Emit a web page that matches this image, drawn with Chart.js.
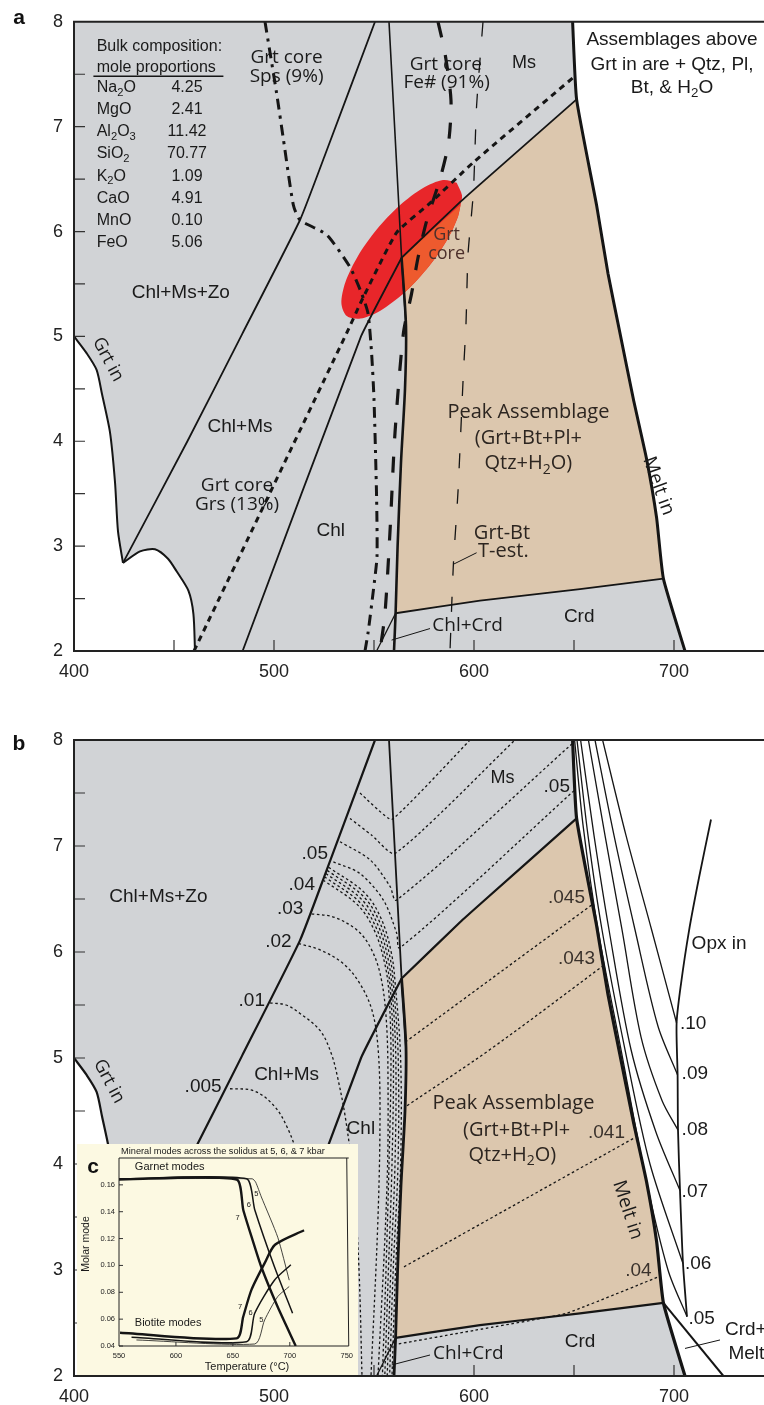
<!DOCTYPE html>
<html>
<head>
<meta charset="utf-8">
<title>Pseudosection</title>
<script src="https://cdn.jsdelivr.net/npm/chart.js@4.4.1/dist/chart.umd.min.js"></script>
<style>
  body { margin: 0; background: #fff; }
  #page { position: relative; width: 764px; height: 1405px; overflow: hidden; }
  canvas { position: absolute; }
</style>
</head>
<body>
<div id="page">
  <canvas id="panelA" width="764" height="700" style="left:0;top:0"></canvas>
  <canvas id="panelB" width="764" height="705" style="left:0;top:700px"></canvas>
  <canvas id="panelC" width="281" height="231" style="left:77px;top:1144px"></canvas>
</div>
<script>
// ---- axes ----
const tempTicks = [400, 500, 600, 700];
const pressTicks = [2, 3, 4, 5, 6, 7, 8];
const tempMinor = [450, 500, 550, 600, 650, 700];
const pressMinor = [2.5, 3, 3.5, 4, 4.5, 5, 5.5, 6, 6.5, 7, 7.5];

// ---- bulk composition (mole proportions) ----
const oxides = ['Na_2O', 'MgO', 'Al_2O_3', 'SiO_2', 'K_2O', 'CaO', 'MnO', 'FeO'];
const moleProps = [4.25, 2.41, 11.42, 70.77, 1.09, 4.91, 0.10, 5.06];

// ---- phase boundaries shared by a and b  [T degC, P kbar] ----
const grtInUpper = [[400,5.0],[406.3,4.84],[411.3,4.68],[414,4.45],[418,4.085],[420.5,3.61],[422,3.14],[424.5,2.84]];
const grtInLower = [[424.5,2.84],[433,2.95],[440.5,2.97],[447,2.88],[451.3,2.76],[457.2,2.575],[459.7,2.355],[460.5,2.0]];
const chlMsLine = [[424.5,2.84],[456.7,4.0],[484,5.02],[513,6.11],[525.5,6.73],[550.5,8.0]];
const chlLine = [[484.3,2.0],[543.5,5.0],[563.8,5.75]];
const msLine = [[557.5,8.0],[563.8,5.75],[566,5.1]];
const tanTop = [[563.8,5.75],[593,6.28],[603,6.45],[651.3,7.26]];
const tanLeft = [[563.8,5.75],[566,5.1],[565.5,4.5],[563.5,3.8],[561.8,3.0],[560.8,2.36],[560,2.0]];
const tanBottom = [[560.8,2.36],[603,2.48],[653,2.59],[694.7,2.69]];
const meltIn = [[649.3,8.0],[651.3,7.26],[661.3,6.25],[667,5.6],[673,5.03],[679.7,4.4],[686.3,3.83],[691.3,3.27],[694.7,2.69],[705.5,2.0]];
const chlCrdLine = [[551.3,2.0],[560.8,2.36]];

// ---- panel a: garnet core isopleths ----
const spsIso = [[495.5,8.0],[501.3,7.32],[504.7,6.88],[509.7,6.25],[513,6.11],[526.3,5.97],[538,5.66],[543.8,5.41],[547,5.22],[548.8,4.84],[550,4.4],[551.3,3.46],[551.5,2.9],[549.7,2.58],[547,2.17],[545.5,2.0]];
const feIso = [[582,8.0],[585.5,7.7],[588.5,7.25],[587.3,6.85],[583,6.5],[576.3,6.1],[572,5.75],[568.8,5.41],[564.7,5.03],[560.5,4.08],[558,3.14],[555.5,2.36],[553,2.0]];
const grsIso = [[460,2.0],[536.3,5.03],[543.8,5.34],[561.3,5.99],[578,6.27],[599.7,6.66],[649.7,7.47]];
const grtBtT = [[604.5,8.0],[601.3,7.2],[599.7,6.38],[597,5.78],[596,5.12],[594.7,4.65],[592,3.52],[589.7,2.83],[588,2.0]];
const grtCore = [[591.35,6.466],[594,6.345],[593.3,6.255],[592.05,6.145],[589.45,6.025],[585.85,5.897],[581.4,5.767],[576.25,5.64],[570.65,5.519],[564.75,5.41],[553.15,5.245],[543.2,5.17],[536.35,5.194],[533.7,5.315],[535.65,5.515],[541.85,5.763],[551.45,6.021],[562.95,6.25],[574.55,6.415],[584.5,6.491],[591.35,6.466]];
const grtCoreInPeak = [[563.8,5.75],[593.3,6.255],[592.05,6.145],[589.45,6.025],[585.85,5.897],[581.4,5.767],[576.25,5.64],[570.65,5.519],[564.75,5.41]];
const underline = [[409.7,7.481],[474.7,7.481]];
const tEstLeader = [[601.3,2.937],[590,2.83]];
const chlCrdLeaderA = [[578,2.214],[558.8,2.104]];

// ---- panel b: modal isopleths ----
const crdMeltLine = [[694.7,2.69],[724.7,2.0]];
const opxIn = [[718.5,7.25],[712.5,6.7],[707.5,6.2],[703.5,5.7],[701.3,5.33],[701.8,4.84],[702,4.32],[703,3.75],[704.5,3.06],[706.5,2.56]];
const melt10 = [[664.3,8.0],[676,7.1],[688.8,6.21],[701.3,5.33]];
const melt09 = [[660.5,8.0],[670,7.1],[680.5,6.21],[692,5.3],[701.8,4.84]];
const melt08 = [[657.2,8.0],[665.5,7.1],[674,6.21],[683.5,5.2],[694,4.6],[702,4.32]];
const melt07 = [[653.3,8.0],[660,7.1],[667.5,6.21],[678.5,5.08],[691,4.3],[703,3.75]];
const melt06 = [[651.5,8.0],[657,7.1],[664,6.21],[675.5,5.08],[688,4.0],[704.5,3.06]];
const melt05 = [[650.3,8.0],[654.5,7.2],[662,6.21],[673.5,5.08],[685.5,3.9],[697,3.0],[706.5,2.56]];
const ms1 = [[543,7.5],[558.8,7.25],[598,8.0]];
const ms2 = [[538,7.26],[549,7.1],[560.5,6.93],[620.5,8.0]];
const ms3 = [[533,7.04],[548,6.87],[558,6.62],[561.3,6.49],[649.4,7.97]];
const ms4 = [[529.7,6.85],[543,6.74],[554.7,6.49],[561.3,6.18],[563,6.04],[650.5,7.53]];
const iso005 = [[478,4.71],[490,4.69],[500,4.55],[507,4.33],[512,4.05],[515,3.6],[516,3.2]];
const iso01 = [[498,5.52],[506,5.5],[513,5.42],[523,5.26],[528.5,5.05],[532,4.8],[536,4.4],[540,3.8],[542.5,3.0],[544,2.0]];
const iso02 = [[512.2,6.08],[523,6.02],[534.7,5.89],[543,5.7],[549,5.45],[552,5.1],[553,4.5],[552,3.5],[548.5,2.0]];
const iso03 = [[518.8,6.36],[529.7,6.33],[541.3,6.21],[548,6.05],[553,5.8],[556,5.4],[557,4.8],[556.5,3.8],[552,2.0]];
const iso04a = [[524.5,6.68],[542,6.44],[550.5,6.19],[555.5,5.88],[557.5,5.6],[558.5,5.0],[557.5,4.0],[556,3.0],[554.2,2.0]];
const iso04b = [[525.2,6.71],[542.8,6.47],[551.3,6.22],[556.3,5.9],[558.3,5.62],[559.7,5.0],[559,4.0],[557.2,3.0],[555.4,2.0]];
const iso04c = [[525.9,6.74],[543.6,6.5],[552.1,6.25],[557.1,5.93],[559.1,5.64],[560.9,5.0],[560.5,4.0],[558.4,3.0],[556.6,2.0]];
const iso04d = [[526.6,6.77],[544.4,6.53],[552.9,6.28],[557.9,5.96],[559.9,5.66],[562.1,5.0],[562,4.0],[559.6,3.0],[557.8,2.0]];
const iso04e = [[527.3,6.8],[545.2,6.56],[553.7,6.31],[558.7,5.99],[560.7,5.68],[563.3,5.0],[563.3,4.0],[560.8,3.0],[559,2.0]];
const peak045 = [[565.6,5.15],[659.3,6.45]];
const peak043 = [[566.5,4.55],[608,5.08],[665.3,5.88]];
const peak041 = [[565,3.03],[680.5,4.25]];
const peak04 = [[691.5,2.93],[646,2.59],[600,2.43],[561.5,2.3]];
const chlCrdLeaderB = [[578,2.198],[558.8,2.104]];
const crdMeltLeader = [[723,2.34],[705.5,2.26]];

// ---- panel c: molar modes across the solidus ----
const modeTicksX = [550, 600, 650, 700, 750];
const modeTicksY = [0.04, 0.06, 0.08, 0.10, 0.12, 0.14, 0.16];
const grt7 = [[550,0.164],[653.3,0.164],[659.1,0.1415],[666.3,0.1216],[674.9,0.099],[689.4,0.069],[705.2,0.04]];
const grt6 = [[550,0.1645],[662,0.1645],[669.2,0.1415],[686.5,0.099],[702.4,0.0644]];
const grt5 = [[550,0.1645],[667,0.1645],[670,0.162],[675,0.151],[689.4,0.121],[699.5,0.089]];
const bt7 = [[550.9,0.0499],[653.3,0.0457],[659.1,0.0619],[666.3,0.0818],[677.9,0.1017],[687,0.1154],[712.5,0.1262]];
const bt6 = [[561,0.0465],[662,0.0432],[669.2,0.0644],[686.5,0.089],[700.9,0.1005]];
const bt5 = [[565.3,0.0445],[669.2,0.0415],[677.9,0.0594],[689.4,0.0768],[699.5,0.0843]];

// ---- styling ----
const SANS = '"Liberation Sans", Arial, Helvetica, sans-serif';
const MYR = '"Open Sans", "Liberation Sans", sans-serif';
const INK = '#151515';
const GRAY = '#d1d3d6';
const TAN = '#dcc7ae';
const TAN_TXT = '#2c2520';
const DOT = [2.6, 2.6];

Chart.defaults.font.family = SANS;
Chart.defaults.color = '#222';

function toXY(pts) { return pts.map(p => ({x: p[0], y: p[1]})); }

function path(pts, style) {
  return Object.assign({
    data: toXY(pts), borderColor: INK, borderWidth: 1.8, borderDash: [],
    fill: false, pointRadius: 0, tension: 0.25
  }, style || {});
}

function region(pts, color, tension) {
  return {data: toXY(pts), borderWidth: 0, backgroundColor: color, fill: 'shape', pointRadius: 0, tension: tension || 0};
}

function drawRich(ctx, str, x, y, o) {
  const size = o.size || 19, fam = o.f || SANS, wt = o.w || 'normal';
  const parts = str.split(/_(\d)/);
  const widths = parts.map((p, i) => {
    ctx.font = `${wt} ${i % 2 ? size * 0.7 : size}px ${fam}`;
    return ctx.measureText(p).width;
  });
  const total = widths.reduce((a, b) => a + b, 0);
  let cx = o.align === 'left' ? x : o.align === 'right' ? x - total : x - total / 2;
  ctx.fillStyle = o.c || '#1a1a1a';
  ctx.textAlign = 'left';
  ctx.textBaseline = 'middle';
  parts.forEach((p, i) => {
    ctx.font = `${wt} ${i % 2 ? size * 0.7 : size}px ${fam}`;
    ctx.fillText(p, cx, y + (i % 2 ? size * 0.3 : 0));
    cx += widths[i];
  });
}

function drawLabel(ctx, l, px, py) {
  ctx.save();
  if (l.rot) {
    ctx.translate(px, py);
    ctx.rotate(l.rot * Math.PI / 180);
    drawRich(ctx, l.s, 0, 0, l);
  } else {
    drawRich(ctx, l.s, px, py, l);
  }
  ctx.restore();
}

const phasePlugin = {
  id: 'phase',
  beforeDraw(chart, args, opts) {
    const {ctx, chartArea: a} = chart;
    ctx.save();
    if (opts.canvasBg) {
      ctx.fillStyle = opts.canvasBg;
      ctx.fillRect(0, 0, chart.width, chart.height);
    }
    ctx.fillStyle = opts.bg;
    ctx.fillRect(a.left, a.top, a.right - a.left, a.bottom - a.top);
    ctx.restore();
  },
  afterDatasetsDraw(chart, args, opts) {
    const {ctx, chartArea: a, scales: {x, y}} = chart;
    ctx.save();
    ctx.strokeStyle = '#333';
    ctx.lineWidth = opts.tickWidth;
    ctx.beginPath();
    opts.xTicks.forEach(v => {
      const px = x.getPixelForValue(v);
      ctx.moveTo(px, a.bottom); ctx.lineTo(px, a.bottom - opts.tickLen);
    });
    opts.yTicks.forEach(v => {
      const py = y.getPixelForValue(v);
      ctx.moveTo(a.left, py); ctx.lineTo(a.left + opts.tickLen, py);
    });
    ctx.stroke();

    ctx.strokeStyle = '#222';
    ctx.lineWidth = opts.frameWidth;
    ctx.beginPath();
    ctx.moveTo(a.right + 2, a.top); ctx.lineTo(a.left, a.top);
    ctx.lineTo(a.left, a.bottom); ctx.lineTo(a.right + 2, a.bottom);
    if (opts.closed) ctx.lineTo(a.right, a.top);
    ctx.stroke();

    (opts.labels || []).forEach(l => drawLabel(ctx, l, x.getPixelForValue(l.x), y.getPixelForValue(l.y)));
    (opts.pxLabels || []).forEach(l => drawLabel(ctx, l, l.px, l.py));
    if (opts.table) {
      const t = opts.table;
      const y0 = y.getPixelForValue(t.y);
      oxides.forEach((ox, i) => {
        drawRich(ctx, ox, x.getPixelForValue(t.xName), y0 + i * t.step, {size: 16, align: 'left'});
        drawRich(ctx, moleProps[i].toFixed(2), x.getPixelForValue(t.xVal), y0 + i * t.step, {size: 16});
      });
    }
    ctx.restore();
  }
};

function mainOptions(topPad, axisH, plugOpts) {
  return {
    responsive: false, animation: false, devicePixelRatio: 1, events: [],
    layout: {padding: {top: topPad, left: 0, right: 0, bottom: 0}},
    plugins: {legend: {display: false}, tooltip: {enabled: false}, phase: plugOpts},
    scales: {
      x: {
        type: 'linear', min: 400, max: 745,
        afterBuildTicks: s => { s.ticks = tempTicks.map(v => ({value: v})); },
        afterFit: s => { s.height = axisH; },
        grid: {display: false, drawTicks: false}, border: {display: false},
        ticks: {font: {size: 18}, color: '#222', padding: 10}
      },
      y: {
        type: 'linear', min: 2, max: 8,
        afterBuildTicks: s => { s.ticks = pressTicks.map(v => ({value: v})); },
        afterFit: s => { s.width = 74; },
        grid: {display: false, drawTicks: false}, border: {display: false},
        ticks: {font: {size: 18}, color: '#222', padding: 11}
      }
    }
  };
}

const MS_TXT = {f: MYR, size: 19};

// ---------------- panel a ----------------
const labelsA = [
  {s: 'Bulk composition:', x: 411.35, y: 7.764, size: 16, align: 'left'},
  {s: 'mole proportions', x: 411.35, y: 7.559, size: 16, align: 'left'},
  {s: 'Grt core', x: 506.3, y: 7.654, ...MS_TXT},
  {s: 'Sps (9%)', x: 506.3, y: 7.481, ...MS_TXT},
  {s: 'Grt core', x: 585.9, y: 7.59, ...MS_TXT},
  {s: 'Fe# (91%)', x: 586.3, y: 7.418, ...MS_TXT},
  {s: 'Ms', x: 625, y: 7.607, size: 18},
  {s: 'Assemblages above', x: 699, y: 7.83, size: 19},
  {s: 'Grt in are + Qtz, Pl,', x: 699, y: 7.59, size: 19},
  {s: 'Bt, & H_2O', x: 699, y: 7.371, size: 19},
  {s: 'Chl+Ms+Zo', x: 453.4, y: 5.42, size: 19},
  {s: 'Grt in', x: 417, y: 4.78, f: MYR, size: 18, rot: 62},
  {s: 'Chl+Ms', x: 483, y: 4.14, size: 19},
  {s: 'Grt core', x: 481.5, y: 3.582, ...MS_TXT},
  {s: 'Grs (13%)', x: 481.5, y: 3.4, ...MS_TXT},
  {s: 'Chl', x: 528.4, y: 3.148, size: 19},
  {s: 'Grt', x: 586.3, y: 5.97, f: MYR, size: 18, c: '#4d302b'},
  {s: 'core', x: 586.3, y: 5.783, f: MYR, size: 18, c: '#4d302b'},
  {s: 'Peak Assemblage', x: 627.2, y: 4.28, f: MYR, size: 20, c: TAN_TXT},
  {s: '(Grt+Bt+Pl+', x: 627.2, y: 4.028, f: MYR, size: 20, c: TAN_TXT},
  {s: 'Qtz+H_2O)', x: 627.2, y: 3.786, f: MYR, size: 20, c: TAN_TXT},
  {s: 'Melt in', x: 692.2, y: 3.573, f: MYR, size: 19, rot: 70},
  {s: 'Grt-Bt', x: 614, y: 3.126, f: MYR, size: 20, c: TAN_TXT},
  {s: 'T-est.', x: 614.7, y: 2.953, f: MYR, size: 20, c: TAN_TXT},
  {s: 'Chl+Crd', x: 596.8, y: 2.245, ...MS_TXT},
  {s: 'Crd', x: 652.6, y: 2.33, size: 19}
];

const tanPoly = [...tanTop, ...meltIn.slice(2, 9), ...tanBottom.slice().reverse().slice(1), ...tanLeft.slice(1, 5).reverse()];
const grtFieldPoly = [...grtInUpper, ...grtInLower.slice(1), [400, 2.0]];
const meltFieldPoly = [...meltIn, [770, 2.0], [770, 8.2], [649, 8.2]];

const dsA = [
  region(grtFieldPoly, '#ffffff'),
  region(meltFieldPoly, '#ffffff'),
  region(tanPoly, TAN),
  region(grtCore, '#e8262a', 0.3),
  region(grtCoreInPeak, '#ee5a2e'),
  path(grtBtT, {borderWidth: 1.3, borderDash: [15, 21], tension: 0.2}),
  path(grtInUpper, {borderWidth: 2}),
  path(grtInLower, {borderWidth: 2}),
  path(chlMsLine, {borderWidth: 1.8, tension: 0.15}),
  path(chlLine, {borderWidth: 1.8, tension: 0.1}),
  path(msLine, {borderWidth: 1.6, tension: 0}),
  path(tanTop, {borderWidth: 1.8, tension: 0.1}),
  path(tanLeft, {borderWidth: 2.6}),
  path(tanBottom, {borderWidth: 1.8, tension: 0.1}),
  path(meltIn, {borderWidth: 3, tension: 0.15}),
  path(chlCrdLine, {borderWidth: 1.3, tension: 0}),
  path(grsIso, {borderWidth: 3, borderDash: [6, 5], tension: 0.15}),
  path(spsIso, {borderWidth: 3, borderDash: [11, 6, 3, 6], tension: 0.2}),
  path(feIso, {borderWidth: 3.2, borderDash: [16, 18], tension: 0.25}),
  path(underline, {borderWidth: 1.5, tension: 0}),
  path(tEstLeader, {borderWidth: 1, tension: 0}),
  path(chlCrdLeaderA, {borderWidth: 1, tension: 0})
].reverse();

new Chart(document.getElementById('panelA'), {
  type: 'line',
  data: {datasets: dsA},
  options: mainOptions(15, 49, {
    bg: GRAY, tickLen: 11, tickWidth: 1.2, frameWidth: 2,
    xTicks: tempMinor, yTicks: pressMinor, labels: labelsA,
    pxLabels: [{s: 'a', px: 19, py: 18, size: 21, w: 'bold', c: '#111'}],
    table: {y: 7.371, step: 22.1, xName: 411.35, xVal: 456.5}
  }),
  plugins: [phasePlugin]
});

// ---------------- panel b ----------------
const labelsB = [
  {s: 'Chl+Ms+Zo', x: 442.2, y: 6.522, size: 19},
  {s: '.05', x: 527, y: 6.925, size: 19, align: 'right'},
  {s: '.04', x: 520.5, y: 6.639, size: 19, align: 'right'},
  {s: '.03', x: 514.7, y: 6.412, size: 19, align: 'right'},
  {s: '.02', x: 508.8, y: 6.097, size: 19, align: 'right'},
  {s: '.01', x: 495.5, y: 5.54, size: 19, align: 'right'},
  {s: '.005', x: 473.8, y: 4.729, size: 19, align: 'right'},
  {s: 'Chl+Ms', x: 506.3, y: 4.84, size: 19},
  {s: 'Chl', x: 536.3, y: 4.336, size: 19, align: 'left'},
  {s: 'Grt in', x: 417.5, y: 4.78, f: MYR, size: 18, rot: 62},
  {s: 'Ms', x: 614.2, y: 7.64, size: 18},
  {s: '.05', x: 648, y: 7.56, size: 19, align: 'right'},
  {s: '.045', x: 655.5, y: 6.507, size: 19, align: 'right', c: '#3a322c'},
  {s: '.043', x: 660.5, y: 5.94, size: 19, align: 'right', c: '#3a322c'},
  {s: 'Opx in', x: 708.8, y: 6.075, size: 19, align: 'left'},
  {s: '.10', x: 703, y: 5.32, size: 19, align: 'left'},
  {s: '.09', x: 703.8, y: 4.855, size: 19, align: 'left'},
  {s: '.08', x: 703.8, y: 4.32, size: 19, align: 'left'},
  {s: '.07', x: 703.8, y: 3.74, size: 19, align: 'left'},
  {s: '.06', x: 705.5, y: 3.063, size: 19, align: 'left'},
  {s: '.05', x: 707.2, y: 2.544, size: 19, align: 'left'},
  {s: 'Peak Assemblage', x: 619.7, y: 4.573, f: MYR, size: 20, c: TAN_TXT},
  {s: '(Grt+Bt+Pl+', x: 621.3, y: 4.321, f: MYR, size: 20, c: TAN_TXT},
  {s: 'Qtz+H_2O)', x: 619.2, y: 4.085, f: MYR, size: 20, c: TAN_TXT},
  {s: '.041', x: 675.5, y: 4.29, size: 19, align: 'right', c: '#3a322c'},
  {s: 'Melt in', x: 676.8, y: 3.566, f: MYR, size: 19, rot: 72},
  {s: '.04', x: 688.8, y: 2.994, size: 19, align: 'right', c: '#3a322c'},
  {s: 'Crd', x: 653, y: 2.324, size: 19},
  {s: 'Chl+Crd', x: 597.2, y: 2.214, ...MS_TXT},
  {s: 'Crd+', x: 725.5, y: 2.434, size: 19, align: 'left'},
  {s: 'Melt', x: 727.2, y: 2.214, size: 19, align: 'left'}
];

const dotted = {borderWidth: 1.3, borderDash: DOT, tension: 0.35};
const fanLine = {borderWidth: 1.3, tension: 0.3};

const dsB = [
  region(grtFieldPoly, '#ffffff'),
  region(meltFieldPoly, '#ffffff'),
  region(tanPoly, TAN),
  path(iso005, dotted), path(iso01, dotted), path(iso02, dotted), path(iso03, dotted),
  path(iso04a, dotted), path(iso04b, dotted), path(iso04c, dotted), path(iso04d, dotted), path(iso04e, dotted),
  path(ms1, {...dotted, tension: 0.1}), path(ms2, {...dotted, tension: 0.2}),
  path(ms3, {...dotted, tension: 0.3}), path(ms4, {...dotted, tension: 0.3}),
  path(peak045, dotted), path(peak043, dotted), path(peak041, dotted), path(peak04, {...dotted, tension: 0.1}),
  path(melt10, fanLine), path(melt09, fanLine), path(melt08, fanLine),
  path(melt07, fanLine), path(melt06, fanLine), path(melt05, fanLine),
  path(opxIn, {borderWidth: 1.8, tension: 0.25}),
  path(grtInUpper, {borderWidth: 2.2}),
  path(grtInLower, {borderWidth: 2.2}),
  path(chlMsLine, {borderWidth: 2.2, tension: 0.15}),
  path(chlLine, {borderWidth: 2.2, tension: 0.1}),
  path(msLine, {borderWidth: 1.8, tension: 0}),
  path(tanTop, {borderWidth: 2.2, tension: 0.1}),
  path(tanLeft, {borderWidth: 2.8}),
  path(tanBottom, {borderWidth: 2.2, tension: 0.1}),
  path(meltIn, {borderWidth: 3.2, tension: 0.15}),
  path(crdMeltLine, {borderWidth: 2, tension: 0}),
  path(chlCrdLine, {borderWidth: 1.3, tension: 0}),
  path(chlCrdLeaderB, {borderWidth: 1, tension: 0}),
  path(crdMeltLeader, {borderWidth: 1, tension: 0})
].reverse();

new Chart(document.getElementById('panelB'), {
  type: 'line',
  data: {datasets: dsB},
  options: mainOptions(40, 29, {
    bg: GRAY, tickLen: 11, tickWidth: 1.2, frameWidth: 2,
    xTicks: tempMinor, yTicks: pressMinor, labels: labelsB,
    pxLabels: [{s: 'b', px: 19, py: 44, size: 21, w: 'bold', c: '#111'}]
  }),
  plugins: [phasePlugin]
});

// ---------------- panel c (inset) ----------------
const labelsC = [
  {s: 'Garnet modes', x: 563.9, y: 0.1736, size: 11, align: 'left'},
  {s: 'Biotite modes', x: 563.9, y: 0.0574, size: 11, align: 'left'},
  {s: '7', x: 654.2, y: 0.135, size: 7.5},
  {s: '6', x: 664, y: 0.145, size: 7.5},
  {s: '5', x: 670.6, y: 0.1534, size: 7.5},
  {s: '7', x: 656.3, y: 0.0693, size: 7.5},
  {s: '6', x: 665.5, y: 0.0644, size: 7.5},
  {s: '5', x: 675, y: 0.0594, size: 7.5}
];

new Chart(document.getElementById('panelC'), {
  type: 'line',
  data: {
    datasets: [
      path(grt7, {borderWidth: 2.4, tension: 0.2}),
      path(grt6, {borderWidth: 1.5, tension: 0.2}),
      path(grt5, {borderWidth: 0.8, tension: 0.2}),
      path(bt7, {borderWidth: 2.4, tension: 0.25}),
      path(bt6, {borderWidth: 1.5, tension: 0.25}),
      path(bt5, {borderWidth: 0.8, tension: 0.25})
    ]
  },
  options: {
    responsive: false, animation: false, devicePixelRatio: 1, events: [],
    layout: {padding: {top: 14, left: 0, right: 8, bottom: 0}},
    plugins: {
      legend: {display: false}, tooltip: {enabled: false},
      phase: {
        bg: '#fcf9e2', canvasBg: '#fcf9e2', tickLen: 4, tickWidth: 1, frameWidth: 1, closed: true,
        xTicks: [600, 650, 700], yTicks: modeTicksY, labels: labelsC,
        pxLabels: [
          {s: 'Mineral modes across the solidus at 5, 6, & 7 kbar', px: 146, py: 7, size: 9.2},
          {s: 'c', px: 16, py: 23, size: 21, w: 'bold', c: '#111'},
          {s: 'Molar mode', px: 9, py: 100, size: 10.5, rot: -90},
          {s: 'Temperature (\u00B0C)', px: 170, py: 223, size: 11}
        ]
      }
    },
    scales: {
      x: {
        type: 'linear', min: 550, max: 750,
        afterBuildTicks: s => { s.ticks = modeTicksX.map(v => ({value: v})); },
        afterFit: s => { s.height = 29; },
        grid: {display: false, drawTicks: false}, border: {display: false},
        ticks: {font: {size: 7.5}, color: '#222', padding: 5}
      },
      y: {
        type: 'linear', min: 0.04, max: 0.18,
        afterBuildTicks: s => { s.ticks = modeTicksY.map(v => ({value: v})); },
        afterFit: s => { s.width = 42; },
        grid: {display: false, drawTicks: false}, border: {display: false},
        ticks: {font: {size: 7.5}, color: '#222', padding: 4, callback: v => v.toFixed(2)}
      }
    }
  },
  plugins: [phasePlugin]
});
</script>
</body>
</html>
